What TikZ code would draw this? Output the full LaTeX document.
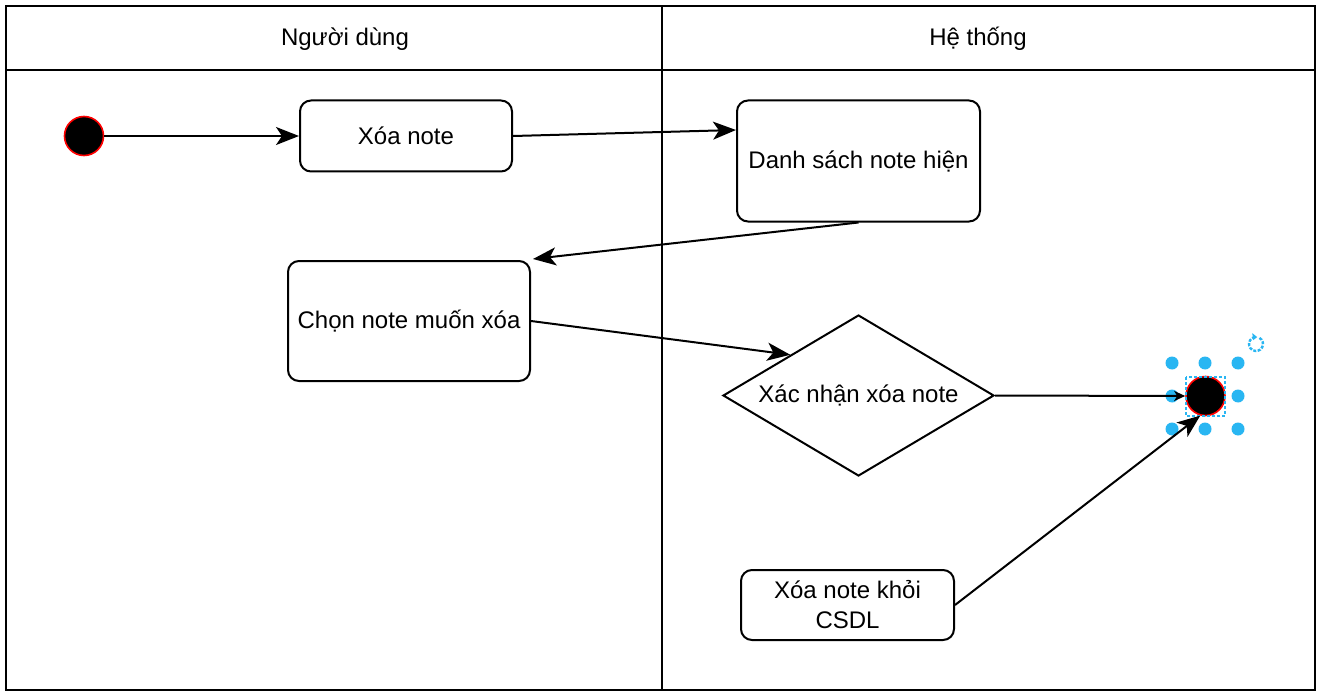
\documentclass[tikz,border=0pt]{standalone}
\usepackage{fontspec}
\setmainfont{Liberation Sans}
\usetikzlibrary{arrows.meta,shapes.geometric}
\definecolor{selblue}{RGB}{41,182,242}
\begin{document}
\begin{tikzpicture}[x=1pt,y=-1pt,
  every node/.style={font=\fontsize{24}{30}\selectfont},
  frame/.style={line width=2pt,draw=black},
  act/.style={draw=black,line width=2pt,rounded corners=11pt,inner sep=0pt,align=center},
  dot/.style={circle,fill=black,draw=red,line width=1.6pt,minimum size=39pt,inner sep=0pt},
  flow/.style={line width=2pt,-{Stealth[length=23pt,width=18pt,inset=6pt]}},
  handle/.style={circle,fill=selblue,draw=none,minimum size=13pt,inner sep=0pt}
]
\useasboundingbox (0,0) rectangle (1321,695);
\fill[white] (0,0) rectangle (1321,695);
% swimlanes
\draw[frame] (6,6) rectangle (1315,690);
\draw[frame] (6,70) -- (1315,70);
\draw[frame] (662,6) -- (662,690);
\node (h1) at (345,39) {Người dùng};
\node (h2) at (978,39) {Hệ thống};
% nodes
\node[dot] (start) at (84,136) {};
\node[act,minimum width=212pt,minimum height=71pt] (xoa) at (406,136) {Xóa note};
\node[act,minimum width=243pt,minimum height=121pt] (ds) at (858.5,161) {Danh sách note hiện};
\node[act,minimum width=242pt,minimum height=120pt] (cn) at (409,321) {Chọn note muốn xóa};
\node[draw=black,line width=2pt,diamond,aspect=1.68,minimum width=271pt,minimum height=161pt,inner sep=0pt] (dia) at (858.5,395.5) {Xác nhận xóa note};
\node[act,minimum width=213pt,minimum height=70pt] (csdl) at (847.5,605) {Xóa note khỏi\\CSDL};
\node[dot] (end) at (1205.5,396) {};
% selection handles (as shown)
\draw[selblue,line width=1.2pt,dash pattern=on 3pt off 2pt] (1186,377) rectangle (1225,416);
\foreach \hx/\hy [count=\i] in {1172/363,1205/363,1238/363,1172/396,1238/396,1172/429,1205/429,1238/429}
  \node[handle] (hd\i) at (\hx,\hy) {};
\coordinate (rot) at (1256,344);
\draw[selblue,line width=2.4pt,dash pattern=on 3pt off 1.5pt] ([shift={(60:7pt)}]rot) arc[start angle=60,end angle=-250,radius=7pt];
\fill[selblue] ([shift={(80:7pt)}]rot) -- ++(-5,-4) -- ++(1,7) -- cycle;
% connectors
\draw[flow] (start) -- (xoa.west);
\draw[flow] (xoa.east) -- (ds.west |- 0,130);
\draw[flow] (ds.south) -- ([shift={(2,-1)}]cn.north east);
\draw[flow] (cn.east) -- (dia.north west);
\draw[line width=2pt,-{Stealth[length=11pt,width=10pt,inset=3pt]}] (dia.east) -- (end.west);
\draw[flow] (csdl.east) -- (end.-105);
\end{tikzpicture}
\end{document}
